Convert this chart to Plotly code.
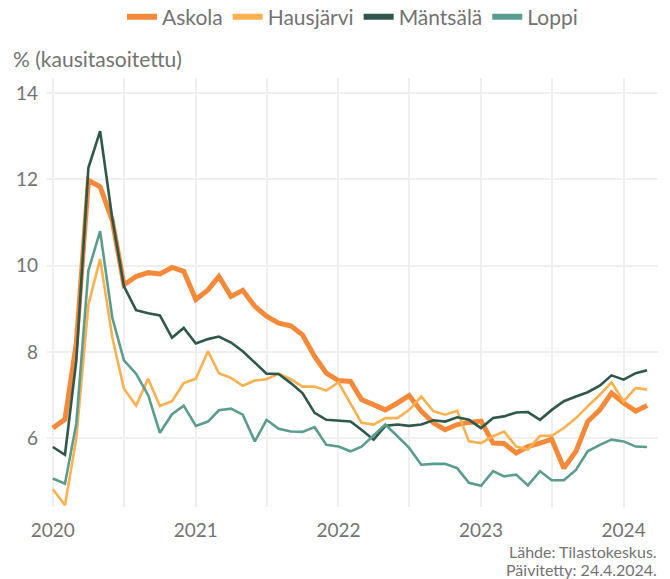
import pandas as pd
import plotly.graph_objects as go

months = pd.date_range("2020-01-01", "2024-03-01", freq="MS")

askola = [6.24, 6.44, 8.2, 11.98, 11.83, 11.05, 9.56, 9.75, 9.84, 9.81, 9.96, 9.87, 9.22,
          9.44, 9.75, 9.29, 9.43, 9.06, 8.83, 8.67, 8.61, 8.40, 7.90, 7.51, 7.34,
          7.32, 6.90, 6.78, 6.66, 6.82, 6.99, 6.63, 6.36, 6.20, 6.32, 6.37, 6.40,
          5.89, 5.88, 5.66, 5.81, 5.89, 5.98, 5.31, 5.70, 6.39, 6.66, 7.05, 6.82, 6.63, 6.76]
hausjarvi = [4.82, 4.45, 6.0, 9.1, 10.16, 8.35, 7.15, 6.76, 7.38, 6.75, 6.86, 7.28, 7.38,
             8.02, 7.51, 7.40, 7.22, 7.34, 7.37, 7.50, 7.37, 7.20, 7.20, 7.11, 7.30,
             6.82, 6.36, 6.32, 6.47, 6.47, 6.66, 6.97, 6.63, 6.55, 6.64, 5.93, 5.89,
             6.05, 6.16, 5.81, 5.74, 6.06, 6.06, 6.24, 6.47, 6.74, 7.01, 7.30, 6.86, 7.17, 7.13]
mantsala = [5.80, 5.62, 7.8, 12.27, 13.12, 11.1, 9.52, 8.97, 8.90, 8.85, 8.33, 8.56, 8.20,
            8.30, 8.36, 8.22, 8.02, 7.76, 7.50, 7.49, 7.28, 7.05, 6.59, 6.43, 6.41,
            6.39, 6.20, 5.97, 6.29, 6.32, 6.29, 6.32, 6.42, 6.39, 6.49, 6.43, 6.24,
            6.47, 6.51, 6.60, 6.61, 6.43, 6.66, 6.86, 6.97, 7.07, 7.22, 7.46, 7.36, 7.51, 7.58]
loppi = [5.07, 4.95, 6.34, 9.89, 10.8, 8.8, 7.81, 7.50, 7.0, 6.13, 6.56, 6.76, 6.29,
         6.39, 6.65, 6.69, 6.55, 5.93, 6.43, 6.22, 6.16, 6.15, 6.26, 5.85, 5.81,
         5.70, 5.81, 6.08, 6.32, 6.05, 5.78, 5.39, 5.41, 5.41, 5.31, 4.97, 4.90,
         5.24, 5.12, 5.16, 4.91, 5.24, 5.03, 5.03, 5.27, 5.70, 5.85, 5.97, 5.93, 5.81, 5.80]

names = ["Askola", "Hausjärvi", "Mäntsälä", "Loppi"]
series = [askola, hausjarvi, mantsala, loppi]
colors = ["#F4893A", "#FDB04F", "#2F574B", "#5A9C8E"]
widths = [5, 2.6, 2.6, 2.6]

y_ticks = [6, 8, 10, 12, 14]
x_tick_labels = ["2020", "2021", "2022", "2023", "2024"]

FONT = "Lato, Roboto, sans-serif"
GRAY = "#737373"

L, R, T, B = 47, 12, 78, 72
PH = 579 - T - B
PW = 670 - L - R


def py(pixel_y):
    return 1 - (pixel_y - T) / PH


fig = go.Figure()
for n, s, c, w in zip(names, series, colors, widths):
    fig.add_trace(go.Scatter(x=months, y=s, mode="lines", name=n,
                             line=dict(color=c, width=w), showlegend=False))
for n, c in zip(names, colors):
    fig.add_trace(go.Scatter(x=[None], y=[None], mode="lines", name=n,
                             line=dict(color=c, width=6), showlegend=True))

fig.update_layout(
    width=670, height=579,
    margin=dict(l=L, r=R, t=T, b=B, autoexpand=False),
    paper_bgcolor="white", plot_bgcolor="white",
    font=dict(family=FONT, color=GRAY, size=17),
    legend=dict(orientation="h", x=0.5, xanchor="center", yref="container",
                y=1 - 17 / 579, yanchor="middle", font=dict(size=21, color=GRAY),
                itemwidth=30, tracegroupgap=0, bgcolor="rgba(0,0,0,0)"),
    xaxis=dict(range=["2019-12-17", "2024-03-29"], type="date", automargin=False,
               tickvals=[pd.Timestamp(f"{t}-01-01") for t in x_tick_labels],
               ticktext=x_tick_labels, ticklabelstandoff=10,
               showgrid=True, gridcolor="#EFEFEF", gridwidth=1.5,
               minor=dict(dtick="M6", tick0="2020-01-01", showgrid=True,
                          gridcolor="#EFEFEF", gridwidth=1.5),
               zeroline=False, showline=False, ticks="",
               tickfont=dict(size=19, color=GRAY)),
    yaxis=dict(range=[4.41, 14.35], tickvals=y_ticks, automargin=False,
               ticklabelstandoff=8,
               showgrid=True, gridcolor="#EFEFEF", gridwidth=1.5,
               zeroline=False, showline=False, ticks="",
               tickfont=dict(size=19, color=GRAY)),
    annotations=[
        dict(text="% (kausitasoitettu)", xref="paper", yref="paper",
             x=-(L - 11) / PW, y=py(58), xanchor="left", yanchor="middle",
             showarrow=False, font=dict(size=21, color=GRAY)),
        dict(text="Lähde: Tilastokeskus.", xref="paper", yref="paper",
             x=1 + 1 / PW, y=py(551), xanchor="right", yanchor="middle",
             showarrow=False, font=dict(size=16, color=GRAY)),
        dict(text="Päivitetty: 24.4.2024.", xref="paper", yref="paper",
             x=1 + 1 / PW, y=py(569), xanchor="right", yanchor="middle",
             showarrow=False, font=dict(size=16, color=GRAY)),
    ],
)

fig.write_html("out.html", config={"displayModeBar": False},
               post_script="document.body.style.margin='0px';document.body.style.padding='0px';")
